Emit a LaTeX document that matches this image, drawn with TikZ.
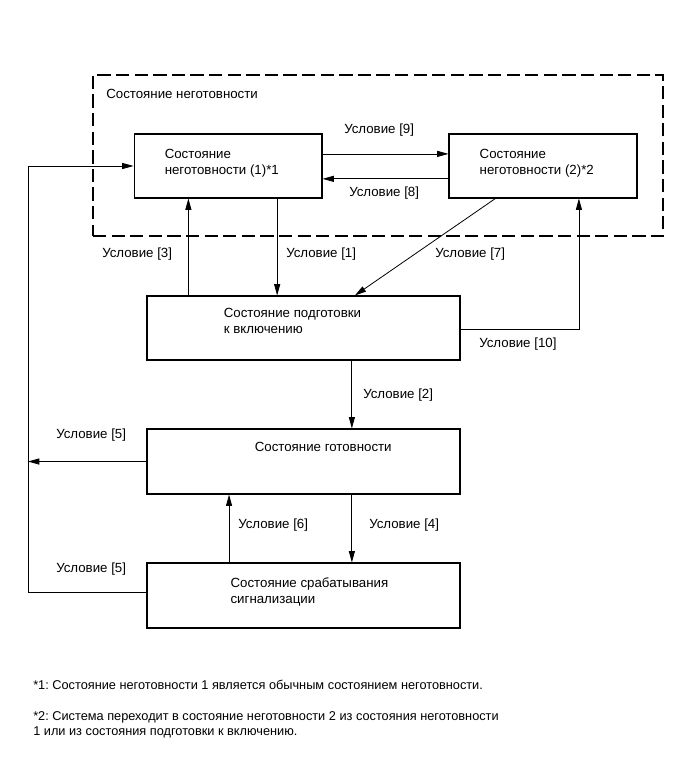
\documentclass[tikz,border=0pt]{standalone}
\usepackage{fontspec}
\setmainfont{Liberation Sans}
\usepackage{tikz}
\usetikzlibrary{arrows.meta,positioning}
\frenchspacing

\begin{document}
\begin{tikzpicture}[
  font=\fontsize{10}{12}\selectfont,
  state/.style={draw=black,line width=0.9pt,minimum width=4.97cm,
    minimum height=1.69cm,inner sep=0pt},
  widestate/.style={state,minimum width=8.28cm},
  group/.style={draw=black,line width=0.9pt,dash pattern=on 10pt off 4pt,
    minimum width=15.08cm,minimum height=4.26cm,inner sep=0pt},
  stext/.style={anchor=north west,inner sep=0pt,align=left},
  cond/.style={anchor=base west,inner sep=0pt},
  trans/.style={-{Triangle[length=3mm,width=1.6mm]},line width=0.6pt},
  note/.style={inner sep=0pt,align=left,font=\fontsize{9.6}{11.25}\selectfont}
]
  \useasboundingbox (0,0) rectangle (18.283,-20.029);

  % not-ready group
  \node[group] (notready) at (10.001,-4.114) {};
  \node[cond] (grouptitle) at (2.805,-2.593) {Состояние неготовности};

  \node[state] (neg1) at (6.033,-4.392) {};
  \node[state] (neg2) at (14.367,-4.392) {};
  \node[widestate] (prep) at (8.030,-8.678) {};
  \node[widestate,minimum height=1.72cm] (ready) at (8.030,-12.211) {};
  \node[widestate,minimum height=1.72cm] (alarm) at (8.030,-15.756) {};

  \node[stext,below right=0.42cm and 0.82cm of neg1.north west] (neg1txt)
    {Состояние\\неготовности (1)*1};
  \node[stext,below right=0.40cm and 0.82cm of neg2.north west] (neg2txt)
    {Состояние\\неготовности (2)*2};
  \node[stext,below right=0.34cm and 2.04cm of prep.north west] (preptxt)
    {Состояние подготовки\\к включению};
  \node[stext,below right=0.37cm and 2.86cm of ready.north west] (readytxt)
    {Состояние готовности};
  \node[stext,below right=0.40cm and 2.22cm of alarm.north west] (alarmtxt)
    {Состояние срабатывания\\сигнализации};

  % left return rail
  \coordinate (rail) at (0.74,-12.211);

  \draw[trans] ([yshift=0.32cm]neg1.east) -- ([yshift=0.32cm]neg2.west);
  \draw[trans] ([yshift=-0.34cm]neg2.west) -- ([yshift=-0.34cm]neg1.east);
  \draw[trans] ([xshift=1.11cm]prep.north west)
    -- ([xshift=1.11cm]prep.north west |- neg1.south);
  \draw[trans] ([xshift=1.30cm]neg1.south)
    -- ([xshift=1.30cm]neg1.south |- prep.north);
  \draw[trans] ([xshift=1.24cm]neg2.south west) -- ([xshift=1.36cm]prep.north);
  \draw[trans] ([yshift=-0.03cm]prep.east) -| ([xshift=0.95cm]neg2.south);
  \draw[trans] ([xshift=1.28cm]prep.south) -- ([xshift=1.28cm]ready.north);
  \draw[trans] ([xshift=1.28cm]ready.south) -- ([xshift=1.28cm]alarm.north);
  \draw[trans] ([xshift=-1.97cm]alarm.north) -- ([xshift=-1.97cm]ready.south);
  \draw[trans] (ready.west) -- (rail);
  \draw[trans] ([yshift=0.07cm]alarm.west) -| (rail |- neg1.west) -- (neg1.west);

  \node[cond] (c9) at (9.102,-3.545) {Условие [9]};
  \node[cond] (c8) at (9.234,-5.186) {Условие [8]};
  \node[cond] (c3) at (2.699,-6.826) {Условие [3]};
  \node[cond] (c1) at (7.567,-6.826) {Условие [1]};
  \node[cond] (c7) at (11.509,-6.826) {Условие [7]};
  \node[cond] (c10) at (12.674,-9.181) {Условие [10]};
  \node[cond] (c2) at (9.604,-10.531) {Условие [2]};
  \node[cond] (c5a) at (1.482,-11.589) {Условие [5]};
  \node[cond] (c6) at (6.297,-13.970) {Условие [6]};
  \node[cond] (c4) at (9.763,-13.970) {Условие [4]};
  \node[cond] (c5b) at (1.482,-15.134) {Условие [5]};

  % footnotes
  \node[note,anchor=base west] (fn1) at (0.873,-18.243)
    {*1: Состояние неготовности 1 является обычным состоянием неготовности.};
  \node[note,anchor=north west] (fn2) at (0.873,-18.83)
    {*2: Система переходит в состояние неготовности 2 из состояния неготовности\\
     1 или из состояния подготовки к включению.};
\end{tikzpicture}
\end{document}
